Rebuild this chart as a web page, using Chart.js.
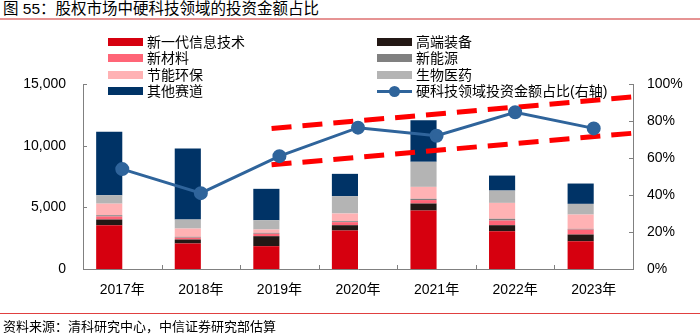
<!DOCTYPE html>
<html>
<head>
<meta charset="utf-8">
<script src="https://cdn.jsdelivr.net/npm/chart.js@4.4.1/dist/chart.umd.min.js"></script>
<style>
  html, body { margin: 0; padding: 0; background: #fff; }
  body { width: 700px; height: 335px; position: relative; overflow: hidden;
         font-family: "Liberation Sans", "Noto Sans CJK SC", sans-serif; }
  #title { position: absolute; left: 3px; top: 1px; font-size: 15.5px; line-height: 16px; color: #000; white-space: nowrap; }
  #titleLine { position: absolute; left: 0; top: 18px; width: 700px; height: 2px; background: #E69494; }
  #footLine { position: absolute; left: 0; top: 313px; width: 700px; height: 1px; background: #E04040; }
  #foot { position: absolute; left: 3px; top: 316px; font-size: 13px; color: #000; white-space: nowrap; }
  #chart { position: absolute; left: 0; top: 0; }
  .lg { position: absolute; font-size: 14px; color: #000; white-space: nowrap; line-height: 16px; }
  .sw { position: absolute; left: 0; top: 4px; width: 35px; height: 8px; }
  .lgtxt { position: absolute; left: 39px; top: 0; }
</style>
</head>
<body>
<div id="title">图 55：股权市场中硬科技领域的投资金额占比</div>
<div id="titleLine"></div>
<canvas id="chart" width="700" height="335"></canvas>
<div id="legend"></div>
<div id="footLine"></div>
<div id="foot">资料来源：清科研究中心，中信证券研究部估算</div>
<script>
// 年份（类别）
const years = ['2017年', '2018年', '2019年', '2020年', '2021年', '2022年', '2023年'];

// 各赛道投资金额（左轴）
const infoTech = [3550, 2070, 1850, 3120, 4740, 3060, 2250];   // 新一代信息技术
const equipment = [460, 320, 810, 430, 570, 490, 545];          // 高端装备
const materials = [250, 150, 200, 250, 280, 380, 400];          // 新材料
const newEnergy = [100, 70, 70, 75, 100, 140, 60];              // 新能源
const ecoTech = [940, 670, 270, 625, 970, 1290, 1160];          // 节能环保
const biomed = [680, 730, 755, 1400, 2030, 1000, 865];          // 生物医药
const others = [5140, 5755, 2545, 1815, 3370, 1215, 1650];      // 其他赛道

// 硬科技领域投资金额占比（右轴, %）
const hardTechShare = [54, 41, 61, 76.4, 72, 84.7, 76];

// 趋势通道（右轴, %），x 为类别序号
const trendX = [1.9, 6.5];
const trendUpper = [76, 93];
const trendLower = [56.3, 73.4];

// 刻度
const leftTicks = [0, 5000, 10000, 15000];
const rightTicks = [0, 20, 40, 60, 80, 100];

const barSeries = [
  { label: '新一代信息技术', data: infoTech, color: '#D6000F' },
  { label: '高端装备', data: equipment, color: '#231815' },
  { label: '新材料', data: materials, color: '#FF6577' },
  { label: '新能源', data: newEnergy, color: '#808080' },
  { label: '节能环保', data: ecoTech, color: '#FFB2B4' },
  { label: '生物医药', data: biomed, color: '#B4B4B4' },
  { label: '其他赛道', data: others, color: '#003366' }
];
const lineColor = '#2F649B';

function fmt(n) {
  return String(n).replace(/\B(?=(\d{3})+(?!\d))/g, ',');
}

const datasets = barSeries.map(s => ({
  type: 'bar',
  label: s.label,
  data: s.data,
  backgroundColor: s.color,
  borderWidth: 0,
  stack: 'a',
  yAxisID: 'y',
  xAxisID: 'x',
  barPercentage: 1,
  categoryPercentage: 0.665,
  order: 2
}));

datasets.push({
  type: 'line',
  label: '硬科技领域投资金额占比(右轴)',
  data: hardTechShare,
  borderColor: lineColor,
  backgroundColor: lineColor,
  borderWidth: 3,
  pointRadius: 5.5,
  pointHoverRadius: 5.5,
  yAxisID: 'yR',
  xAxisID: 'x',
  order: 0
});

[trendUpper, trendLower].forEach((arr, k) => {
  datasets.push({
    type: 'line',
    label: 'trend' + k,
    data: trendX.map((x, i) => ({ x: x, y: arr[i] })),
    borderColor: '#FF0000',
    borderWidth: 5,
    borderDash: [20, 11],
    pointRadius: 0,
    yAxisID: 'yR',
    xAxisID: 'xt',
    order: 1
  });
});

// 轴内刻度线
const innerTicks = {
  id: 'innerTicks',
  afterDraw(chart) {
    const ctx = chart.ctx;
    const a = chart.chartArea;
    const yL = chart.scales.y, yR = chart.scales.yR, x = chart.scales.x;
    ctx.save();
    ctx.strokeStyle = '#808080';
    ctx.lineWidth = 1;
    ctx.beginPath();
    leftTicks.forEach(v => {
      const py = Math.round(yL.getPixelForValue(v)) + 0.5;
      ctx.moveTo(a.left, py); ctx.lineTo(a.left + 4, py);
    });
    rightTicks.forEach(v => {
      const py = Math.round(yR.getPixelForValue(v)) + 0.5;
      ctx.moveTo(a.right, py); ctx.lineTo(a.right - 4, py);
    });
    for (let i = 1; i < years.length; i++) {
      const px = Math.round((x.getPixelForValue(i - 1) + x.getPixelForValue(i)) / 2) + 0.5;
      ctx.moveTo(px, a.bottom); ctx.lineTo(px, a.bottom - 4);
    }
    ctx.stroke();
    ctx.restore();
  }
};

const tickFont = { family: '"Liberation Sans", "Noto Sans CJK SC", sans-serif', size: 14 };

new Chart(document.getElementById('chart'), {
  data: { labels: years, datasets: datasets },
  options: {
    responsive: false,
    animation: false,
    layout: { padding: { top: 84, left: 0, right: 0, bottom: 0 } },
    plugins: { legend: { display: false }, tooltip: { enabled: false } },
    scales: {
      x: {
        type: 'category',
        offset: true,
        grid: { display: false, drawTicks: false },
        border: { display: true, color: '#808080' },
        ticks: { color: '#000', font: tickFont, padding: 13 },
        afterFit: s => { s.height = 66; }
      },
      xt: {
        type: 'linear',
        display: false,
        min: -0.5,
        max: 6.5
      },
      y: {
        position: 'left',
        stacked: true,
        min: 0,
        max: 15000,
        grid: { display: false, drawTicks: false },
        border: { display: true, color: '#808080' },
        ticks: { stepSize: 5000, color: '#000', font: tickFont, padding: 17,
                 callback: v => fmt(v) },
        afterFit: s => { s.width = 83; }
      },
      yR: {
        position: 'right',
        min: 0,
        max: 100,
        grid: { display: false, drawTicks: false },
        border: { display: true, color: '#808080' },
        ticks: { stepSize: 20, color: '#000', font: tickFont, padding: 14,
                 callback: v => v + '%' },
        afterFit: s => { s.width = 67; }
      }
    }
  },
  plugins: [innerTicks]
});

// 两列图例（按行排列）
const legendItems = barSeries.map(s => ({ label: s.label, color: s.color, line: false }));
legendItems.push({ label: '硬科技领域投资金额占比(右轴)', color: lineColor, line: true });
const colX = [108, 377];
const rowY = [34, 50, 67, 83];
const legendEl = document.getElementById('legend');
legendItems.forEach((it, i) => {
  const d = document.createElement('div');
  d.className = 'lg';
  d.style.left = colX[i % 2] + 'px';
  d.style.top = rowY[Math.floor(i / 2)] + 'px';
  let sw;
  if (it.line) {
    sw = '<div style="position:absolute;left:0;top:7px;width:35px;height:3px;background:' + it.color + '"></div>' +
         '<div style="position:absolute;left:12px;top:3px;width:11px;height:11px;border-radius:50%;background:' + it.color + '"></div>';
  } else {
    sw = '<div class="sw" style="background:' + it.color + '"></div>';
  }
  d.innerHTML = sw + '<span class="lgtxt">' + it.label + '</span>';
  legendEl.appendChild(d);
});
</script>
</body>
</html>
